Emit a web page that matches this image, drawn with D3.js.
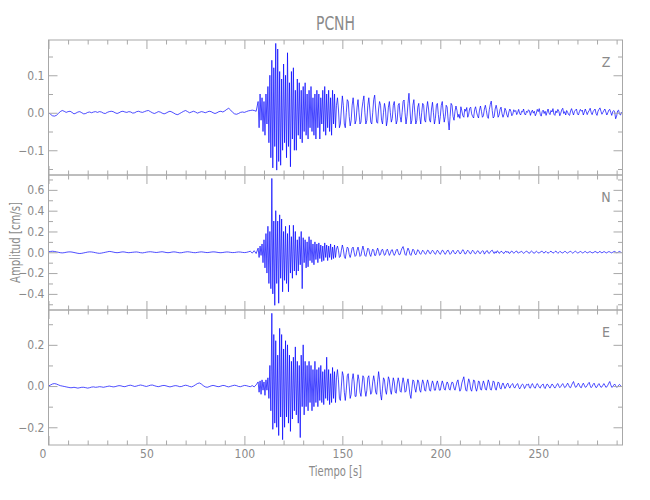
<!DOCTYPE html>
<html><head><meta charset="utf-8">
<script src="https://cdn.jsdelivr.net/npm/d3@7"></script>
<style>
body{margin:0;background:#fff;}
text{font-family:"Liberation Sans Narrow","DejaVu Sans Condensed","Roboto Condensed",sans-serif;fill:#8a8a8a;}
</style></head><body><svg id="c" width="650" height="500"></svg>
<script>
const title = "PCNH";
const xLabel = "Tiempo [s]";
const yLabel = "Amplitud [cm/s]";
const channels = ["Z", "N", "E"];
const xDomain = [0, 293];
const xMajorTicks = [0, 50, 100, 150, 200, 250];
const xMinorTicks = d3.range(0, 293, 10);
const zRange = [-0.166, 0.194];
const nRange = [-0.555, 0.743];
const eRange = [-0.286, 0.369];
const zTicks = [-0.1, 0.0, 0.1];
const zMinor = [-0.15, -0.05, 0.05, 0.15];
const nTicks = [-0.4, -0.2, 0.0, 0.2, 0.4, 0.6];
const nMinor = [-0.5, -0.3, -0.1, 0.1, 0.3, 0.5, 0.7];
const eTicks = [-0.2, 0.0, 0.2];
const eMinor = [-0.1, 0.1, 0.3];

// sampling: pre-event every 1 s from 0, event part every 0.5 s from 107 s
const preDt = 1, postStart = 107, postDt = 0.5;

const zPre = [
0.000,-0.004,-0.008,-0.009,-0.007,-0.002,0.003,0.006,0.004,0.001,
0.003,0.004,0.001,-0.003,-0.001,0.002,0.003,0.000,-0.003,-0.002,
0.001,0.002,0.000,0.002,0.003,0.001,0.003,0.002,-0.001,-0.002,
0.001,0.003,0.004,0.003,0.000,-0.002,0.000,0.003,0.004,0.002,
0.001,0.003,0.002,-0.001,0.000,0.003,0.004,0.002,0.001,0.003,
0.005,0.006,0.003,0.000,-0.002,0.000,0.003,0.002,-0.001,-0.003,
-0.001,0.002,0.004,0.002,-0.001,-0.004,-0.005,-0.002,0.001,0.004,
0.006,0.003,0.000,0.002,0.004,0.002,-0.001,0.001,0.003,0.002,
0.000,0.002,0.004,0.003,0.000,-0.002,0.000,0.003,0.004,0.002,
0.005,0.009,0.012,0.007,0.001,-0.003,-0.004,-0.002,0.001,0.002,
0.001,0.003,0.005,0.006,0.007,0.006,0.004];
const zPost = [
0.03,-0.04,0.05,-0.02,0.04,-0.05,0.03,-0.06,0.05,-0.03,
0.07,-0.08,0.10,-0.12,0.14,-0.147,0.12,-0.09,0.185,-0.153,
0.17,-0.13,0.11,-0.14,0.09,-0.10,0.13,-0.08,0.10,-0.12,
0.16,-0.09,0.08,-0.144,0.11,-0.07,0.12,-0.10,0.06,-0.10,
0.09,-0.06,0.08,-0.07,0.06,-0.08,0.07,-0.05,0.08,-0.06,
0.05,-0.07,0.06,-0.04,0.07,-0.05,0.04,-0.06,0.05,-0.07,
0.06,-0.04,0.05,-0.07,0.04,-0.03,0.06,-0.05,0.07,-0.06,
0.05,-0.04,0.06,-0.05,0.04,-0.06,0.06,-0.03,0.05,-0.04,
0.02,0.04,0.01,-0.04,-0.03,0.01,0.045,0.02,-0.03,-0.04,
0.00,0.035,0.03,-0.01,-0.035,-0.02,0.02,0.04,0.01,-0.03,
-0.02,0.015,0.035,0.00,-0.03,-0.025,0.01,0.03,0.045,0.00,
-0.03,-0.02,0.02,0.04,0.01,-0.025,-0.03,0.00,0.035,0.047,
0.01,-0.025,-0.028,0.01,0.03,0.02,-0.02,-0.03,0.00,0.025,
0.01,-0.035,-0.02,0.015,0.03,0.00,-0.025,-0.015,0.02,0.03,
0.00,-0.03,-0.02,0.02,0.025,-0.01,-0.025,0.00,0.03,0.034,
0.00,-0.03,-0.01,0.025,0.052,0.01,-0.03,-0.02,0.02,0.035,
0.00,-0.03,-0.02,0.015,0.025,-0.01,-0.03,0.00,0.025,0.02,
-0.02,-0.025,0.01,0.03,0.01,-0.02,-0.025,0.01,0.028,0.00,
-0.03,-0.015,0.02,0.025,-0.005,-0.03,-0.01,0.02,0.03,0.00,
-0.025,-0.01,0.02,0.015,-0.02,-0.046,-0.01,0.025,0.02,-0.01,
-0.02,0.004,0.018,0.006,-0.012,-0.004,-0.015,0.016,0.005,-0.008,
-0.012,0.010,0.004,0.014,-0.012,-0.004,0.012,0.015,-0.003,-0.010,
-0.014,0.008,0.016,0.002,-0.008,-0.014,0.007,0.018,0.004,-0.012,
-0.008,0.010,0.020,0.006,-0.010,-0.015,0.008,0.022,0.031,0.006,
-0.014,-0.010,0.010,0.020,0.008,-0.012,-0.006,0.009,0.015,-0.002,
-0.012,-0.004,0.012,0.006,-0.006,-0.012,0.002,0.010,0.004,-0.008,
-0.004,0.008,0.003,0.006,-0.005,0.001,0.009,-0.002,-0.006,0.004,
0.002,0.010,-0.003,-0.006,0.004,0.001,0.008,0.005,-0.007,0.002,
0.007,-0.001,0.004,-0.008,-0.002,0.009,0.003,0.011,-0.004,-0.009,
0.003,0.007,-0.002,0.004,-0.007,0.002,0.010,-0.001,-0.005,0.006,
0.002,0.011,-0.004,-0.007,0.005,0.000,0.009,0.004,-0.008,-0.001,
0.008,0.012,-0.002,0.003,-0.006,0.006,0.001,-0.005,-0.007,0.005,
0.011,0.002,-0.006,0.004,0.007,0.010,-0.003,-0.006,0.003,0.009,
0.004,0.007,-0.006,0.001,0.010,0.003,-0.005,0.002,0.006,0.012,
0.001,-0.005,0.003,0.007,0.010,-0.002,-0.007,0.004,0.009,0.013,
0.004,-0.004,0.001,0.006,0.010,0.002,-0.006,0.000,0.007,0.009,
0.001,-0.007,0.003,0.006,0.002,-0.016,-0.009,0.005,0.007,-0.004,
-0.006,0.002];

const nPre = [
0.005,0.008,0.010,0.008,0.004,0.000,-0.004,-0.006,-0.004,0.000,
0.003,0.004,0.002,-0.002,-0.006,-0.010,-0.012,-0.010,-0.006,-0.002,
0.002,0.004,0.003,0.000,-0.004,-0.008,-0.010,-0.008,-0.004,0.000,
0.004,0.008,0.006,0.002,-0.002,-0.004,-0.002,0.002,0.004,0.002,
-0.002,-0.004,-0.002,0.000,0.002,0.003,0.000,-0.004,-0.006,-0.003,
0.001,0.004,0.005,0.003,0.000,-0.002,0.000,0.003,0.005,0.002,
-0.002,-0.004,-0.002,0.002,0.004,0.002,-0.002,-0.005,-0.004,0.000,
0.003,0.005,0.003,0.000,-0.003,-0.004,-0.001,0.002,0.004,0.002,
-0.001,-0.003,-0.001,0.002,0.004,0.003,0.000,-0.003,-0.004,-0.002,
0.001,0.003,0.002,-0.001,-0.003,-0.002,0.001,0.003,0.002,-0.001,
-0.003,-0.001,0.004,0.010,-0.008,0.015,-0.012];
const nPost = [
0.04,-0.05,0.06,-0.03,0.08,-0.10,0.12,-0.15,0.18,-0.20,
0.25,-0.30,0.20,-0.35,0.71,-0.40,0.30,-0.51,0.40,-0.30,
0.30,-0.49,0.36,-0.25,0.32,-0.38,0.20,-0.27,0.25,-0.30,
0.18,-0.38,0.26,-0.20,0.15,-0.25,0.26,-0.18,0.20,-0.22,
0.12,-0.18,0.15,-0.12,0.20,-0.35,0.14,-0.10,0.12,-0.15,
0.10,-0.14,0.15,-0.08,0.12,-0.10,0.08,-0.12,0.10,-0.07,
0.08,-0.10,0.09,-0.06,0.07,-0.09,0.06,-0.08,0.09,-0.05,
0.07,-0.08,0.06,-0.05,0.08,-0.07,0.05,-0.06,0.07,-0.05,
0.03,0.06,0.02,-0.05,-0.04,0.02,0.07,0.03,-0.04,-0.06,
0.00,0.05,0.04,-0.02,-0.05,-0.01,0.04,0.05,0.00,-0.04,
-0.03,0.02,0.05,0.01,-0.04,-0.03,0.02,0.06,0.02,-0.03,
-0.04,0.00,0.04,0.03,-0.02,-0.04,0.00,0.03,0.02,-0.03,
-0.03,0.01,0.04,0.01,-0.03,-0.02,0.02,0.03,0.00,-0.03,
-0.02,0.02,0.03,0.00,-0.03,-0.01,0.02,0.025,-0.01,-0.03,
-0.01,0.02,0.03,0.00,-0.025,-0.02,0.015,0.04,0.055,0.02,
-0.02,-0.03,0.01,0.04,0.02,-0.02,-0.03,0.00,0.03,0.02,
-0.015,-0.025,0.00,0.025,0.015,-0.01,-0.02,0.00,0.02,0.01,
-0.01,-0.02,0.00,0.02,0.015,-0.01,-0.015,0.005,0.02,0.01,
-0.01,-0.02,0.00,0.02,0.01,-0.01,-0.02,0.00,0.02,0.015,
-0.005,-0.02,-0.005,0.015,0.02,0.00,-0.02,-0.01,0.01,0.02,
0.00,-0.015,-0.01,0.01,0.02,0.005,-0.015,-0.01,0.01,0.025,
0.01,-0.015,-0.015,0.005,0.02,0.01,-0.01,-0.015,0.005,0.02,
0.01,-0.01,-0.015,0.00,0.015,0.01,-0.01,-0.012,0.005,0.015,
0.010,-0.018,-0.004,0.012,0.016,-0.006,-0.012,0.004,0.014,0.020,
0.002,-0.012,0.006,-0.008,0.014,0.008,-0.010,-0.004,0.010,0.006,
-0.006,-0.012,0.004,0.012,-0.002,0.008,-0.008,-0.010,0.006,0.012,
0.002,-0.010,0.000,0.008,0.012,-0.004,-0.008,0.002,0.004,0.010,
-0.002,-0.010,-0.004,0.006,0.010,0.006,-0.006,-0.010,0.004,0.012,
0.006,-0.006,-0.010,0.002,0.010,0.004,-0.006,-0.008,0.002,0.008,
0.010,-0.002,-0.008,0.004,0.008,-0.002,-0.008,-0.004,0.006,0.010,
0.002,-0.008,-0.004,0.006,0.012,0.000,-0.010,-0.002,0.008,0.004,
-0.004,-0.008,0.002,0.008,0.006,-0.004,-0.008,0.000,0.006,0.010,
0.000,-0.008,-0.004,0.006,0.010,0.002,-0.006,-0.006,0.004,0.008,
0.002,-0.006,-0.004,0.004,0.008,0.000,-0.006,-0.002,0.004,0.006,
0.000,-0.006,-0.004,0.002,0.008,0.004,-0.004,-0.006,0.004,0.008,
0.000,-0.006,0.000,0.006,0.004,-0.004,-0.006,0.002,0.006,0.004,
-0.002,-0.006,0.000,0.006,0.008,0.002,-0.004,-0.002,0.004,0.008,
0.002,-0.002];

const ePre = [
0.000,0.005,0.010,0.012,0.010,0.006,0.002,0.000,-0.002,-0.004,
-0.006,-0.008,-0.008,-0.006,-0.008,-0.010,-0.008,-0.006,-0.006,-0.008,
-0.010,-0.008,-0.005,-0.004,-0.006,-0.005,-0.003,-0.004,-0.006,-0.004,
-0.002,0.000,-0.002,-0.004,-0.003,0.000,0.002,0.001,-0.002,-0.003,
0.000,0.003,0.004,0.001,-0.002,0.000,0.003,0.005,0.003,0.000,
-0.002,0.001,0.004,0.005,0.002,-0.001,-0.003,-0.001,0.002,0.003,
0.001,-0.002,-0.004,-0.002,0.001,0.002,0.000,-0.003,-0.002,0.002,
0.004,0.002,-0.002,-0.004,0.000,0.006,0.012,0.015,0.010,0.002,
-0.004,-0.006,-0.003,0.001,0.003,0.001,-0.002,-0.003,0.000,0.003,
0.002,-0.002,-0.004,-0.001,0.002,0.004,0.002,-0.002,-0.003,0.000,
0.003,0.002,-0.001,-0.003,0.002,-0.004,0.006];
const ePost = [
0.02,-0.03,0.025,-0.04,0.03,-0.02,0.02,-0.045,0.03,-0.02,
0.04,-0.06,0.10,-0.12,0.353,-0.21,0.25,-0.18,0.22,-0.20,
0.15,-0.24,0.28,-0.15,0.25,-0.26,0.18,-0.20,0.22,-0.15,
0.20,-0.18,0.15,-0.22,0.12,-0.16,0.14,-0.12,0.19,-0.14,
0.12,-0.18,0.10,-0.25,0.15,-0.10,0.20,-0.14,0.12,-0.10,
0.10,-0.12,0.12,-0.08,0.10,-0.12,0.08,-0.10,0.12,-0.08,
0.08,-0.10,0.09,-0.07,0.10,-0.08,0.07,-0.09,0.08,-0.06,
0.14,-0.07,0.08,-0.09,0.06,-0.08,0.09,-0.06,0.07,-0.08,
0.04,0.08,0.03,-0.06,-0.07,0.00,0.07,0.05,-0.03,-0.07,
-0.02,0.05,0.06,0.00,-0.06,-0.04,0.03,0.06,0.02,-0.05,
-0.05,0.01,0.055,0.03,-0.03,-0.05,0.00,0.05,0.04,-0.02,
-0.05,-0.02,0.04,0.05,0.00,-0.04,-0.03,0.02,0.05,0.02,
-0.03,-0.04,0.02,0.07,0.03,-0.04,-0.068,-0.01,0.04,0.03,
-0.02,-0.04,0.00,0.045,0.03,-0.02,-0.04,0.00,0.04,0.02,
-0.03,-0.035,0.01,0.04,0.02,-0.025,-0.03,0.01,0.04,0.015,
-0.03,-0.025,0.015,0.035,0.00,-0.04,-0.06,-0.01,0.03,0.025,
-0.01,-0.03,0.00,0.03,0.02,-0.02,-0.03,0.005,0.03,0.015,
-0.02,-0.025,0.01,0.03,0.01,-0.02,-0.025,0.005,0.025,0.01,
-0.02,-0.02,0.01,0.025,0.005,-0.02,-0.02,0.005,0.025,0.01,
-0.015,-0.02,0.005,0.02,0.01,-0.015,-0.02,0.005,0.02,0.015,
-0.01,-0.02,0.00,0.02,0.03,0.00,-0.025,-0.015,0.015,0.03,
0.045,0.01,-0.02,-0.025,0.01,0.035,0.02,-0.015,-0.025,0.00,
0.03,0.025,-0.01,-0.025,-0.005,0.025,0.02,-0.015,-0.02,0.005,
0.025,0.01,-0.015,-0.02,0.005,0.03,0.015,-0.015,-0.02,0.00,
0.025,0.02,-0.01,-0.02,0.00,0.02,0.015,-0.01,-0.015,0.005,
0.015,0.002,-0.012,-0.004,0.010,0.014,-0.002,-0.010,0.002,0.008,
0.012,-0.004,-0.010,0.000,0.008,0.012,-0.004,-0.014,-0.006,0.006,
0.010,0.002,-0.012,-0.004,0.008,0.006,0.010,-0.008,-0.010,0.004,
0.012,0.002,-0.008,-0.010,0.004,0.012,0.004,-0.006,-0.010,0.002,
0.006,0.010,-0.006,-0.012,0.000,0.010,0.006,-0.004,-0.010,0.000,
0.010,0.006,-0.004,-0.010,-0.002,0.008,0.012,0.000,-0.008,-0.002,
0.006,0.012,0.002,-0.008,-0.004,0.006,0.014,0.004,-0.006,-0.008,
0.004,0.014,0.022,0.006,-0.006,-0.004,0.006,0.014,0.004,-0.006,
-0.008,0.006,0.014,0.004,-0.006,-0.004,0.004,0.012,0.018,0.002,
-0.008,-0.002,0.008,0.014,0.002,-0.008,-0.004,0.006,0.012,0.002,
-0.006,-0.004,0.004,0.012,0.004,-0.006,-0.004,0.004,0.014,0.022,
0.006,-0.006,-0.004,0.004,0.010,0.002,-0.006,-0.004,0.004,0.008,
0.002,-0.002];

function toSeries(pre, post) {
  return pre.map((v, i) => [i * preDt, v])
    .concat(post.map((v, i) => [postStart + i * postDt, v]));
}

const panels = [
  {name: channels[0], data: toSeries(zPre, zPost), range: zRange, major: zTicks, minor: zMinor},
  {name: channels[1], data: toSeries(nPre, nPost), range: nRange, major: nTicks, minor: nMinor},
  {name: channels[2], data: toSeries(ePre, ePost), range: eRange, major: eTicks, minor: eMinor}
];

const svg = d3.select("#c");
svg.append("rect").attr("width", 650).attr("height", 500).attr("fill", "#fff");
const left = 48.5, right = 622.5, top0 = 40, ph = 135;
const axisColor = "#a8a8a8";
const x = d3.scaleLinear().domain(xDomain).range([left, right]);
const fmt = d3.format(".1f");

function styleAxis(g) {
  g.select(".domain").remove();
  g.selectAll(".tick line").attr("stroke", axisColor);
  g.selectAll(".tick text").attr("fill", "#8a8a8a").style("font-size", "12px");
}

svg.append("clipPath").attr("id", "clipAll").append("rect")
  .attr("x", left).attr("y", top0).attr("width", right - left).attr("height", ph * 3);

panels.forEach((p, i) => {
  const top = top0 + i * ph, bottom = top + ph;
  const y = d3.scaleLinear().domain(p.range).range([bottom, top]);
  const g = svg.append("g");

  // trace
  g.append("path")
    .datum(p.data)
    .attr("clip-path", "url(#clipAll)")
    .attr("fill", "none")
    .attr("stroke", "#0000ff")
    .attr("stroke-width", 0.7)
    .attr("stroke-linejoin", "round")
    .attr("d", d3.line().x(d => x(d[0])).y(d => y(d[1])));

  // left axis
  g.append("g").attr("transform", `translate(${left},0)`)
    .call(d3.axisLeft(y).tickValues(p.major).tickSize(-9).tickPadding(4).tickFormat(fmt))
    .call(styleAxis);
  g.append("g").attr("transform", `translate(${left},0)`)
    .call(d3.axisLeft(y).tickValues(p.minor).tickSize(-4.5).tickFormat(""))
    .call(styleAxis);
  // right axis
  g.append("g").attr("transform", `translate(${right},0)`)
    .call(d3.axisRight(y).tickValues(p.major).tickSize(-9).tickFormat(""))
    .call(styleAxis);
  g.append("g").attr("transform", `translate(${right},0)`)
    .call(d3.axisRight(y).tickValues(p.minor).tickSize(-4.5).tickFormat(""))
    .call(styleAxis);
  // top axis
  g.append("g").attr("transform", `translate(0,${top})`)
    .call(d3.axisTop(x).tickValues(xMajorTicks).tickSize(-9).tickFormat(""))
    .call(styleAxis);
  g.append("g").attr("transform", `translate(0,${top})`)
    .call(d3.axisTop(x).tickValues(xMinorTicks.filter(v => xMajorTicks.indexOf(v) < 0)).tickSize(-4.5).tickFormat(""))
    .call(styleAxis);
  // bottom axis
  const bAx = g.append("g").attr("transform", `translate(0,${bottom})`)
    .call(d3.axisBottom(x).tickValues(xMajorTicks).tickSize(-9).tickPadding(4)
      .tickFormat(i === panels.length - 1 ? d3.format("d") : ""))
    .call(styleAxis);
  bAx.selectAll(".tick text").filter(d => d === 0).attr("dx", -6);
  g.append("g").attr("transform", `translate(0,${bottom})`)
    .call(d3.axisBottom(x).tickValues(xMinorTicks.filter(v => xMajorTicks.indexOf(v) < 0)).tickSize(-4.5).tickFormat(""))
    .call(styleAxis);

  // box
  g.append("rect").attr("x", left).attr("y", top).attr("width", right - left).attr("height", ph)
    .attr("fill", "none").attr("stroke", axisColor).attr("stroke-width", 1);

  // channel label
  g.append("text").attr("x", 606).attr("y", top + 27).attr("text-anchor", "middle")
    .style("font-size", "14px").text(p.name);
});

svg.append("text").attr("x", (left + right) / 2).attr("y", 30).attr("text-anchor", "middle")
  .attr("textLength", 39).attr("lengthAdjust", "spacingAndGlyphs")
  .style("font-size", "20px").text(title);
svg.append("text").attr("x", (left + right) / 2).attr("y", 476).attr("text-anchor", "middle")
  .attr("textLength", 53).attr("lengthAdjust", "spacingAndGlyphs")
  .style("font-size", "14px").text(xLabel);
svg.append("text").attr("transform", `translate(20,${top0 + ph * 1.5}) rotate(-90)`)
  .attr("text-anchor", "middle")
  .attr("textLength", 81).attr("lengthAdjust", "spacingAndGlyphs")
  .style("font-size", "14px").text(yLabel);
</script></body></html>
